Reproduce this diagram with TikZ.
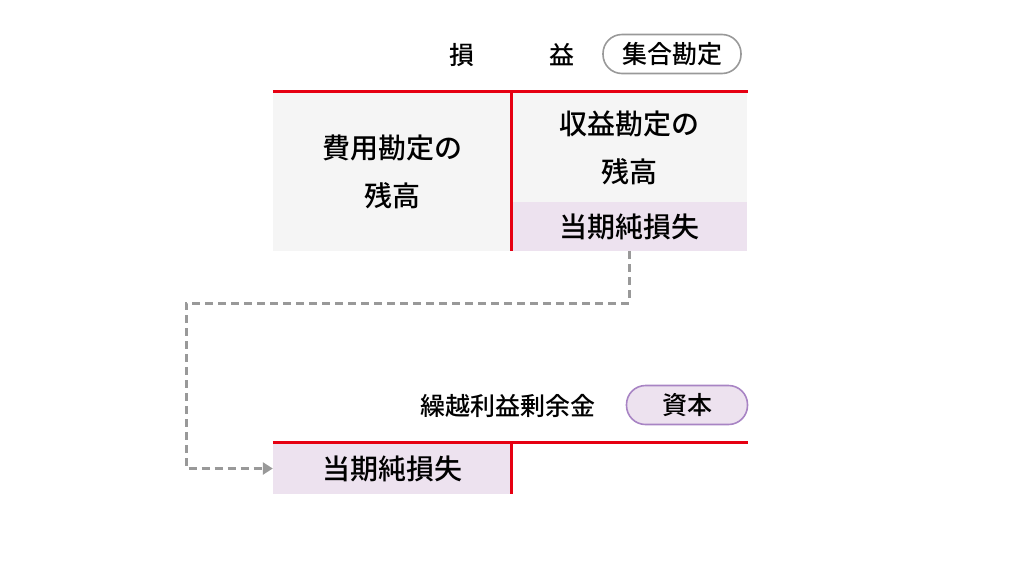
\documentclass[tikz,border=0pt]{standalone}
\usepackage{fontspec}
\setmainfont{Noto Sans CJK JP}[UprightFont={* Medium}]
\usepackage{tikz}
\usetikzlibrary{arrows.meta}

\definecolor{lineRed}{HTML}{E60012}
\definecolor{cellGrey}{HTML}{F5F5F5}
\definecolor{cellPurple}{HTML}{EDE2EF}
\definecolor{pillPurple}{HTML}{A884C4}
\definecolor{flowGrey}{HTML}{999999}

\begin{document}
\begin{tikzpicture}[x=1pt,y=-1pt,>={Triangle[length=10pt,width=12pt]},
      cell/.style={rectangle,inner sep=0pt,align=center,font=\fontsize{28}{48}\selectfont},
      title/.style={font=\fontsize{25}{30}\selectfont},
      pill/.style={rectangle,rounded corners=19pt,line width=1.6pt,
        minimum height=39pt,font=\fontsize{25}{30}\selectfont},
      tline/.style={lineRed,line width=3pt},
      flow/.style={flowGrey,line width=3pt,dash pattern=on 8pt off 5pt}]
    \useasboundingbox (0,0) rectangle (1024,576);

    % 損益 (top account)
    \node[cell,fill=cellGrey,minimum width=238pt,minimum height=158pt] (debit) at (392,172) {費用勘定の\\残高};
    \node[cell,fill=cellGrey,minimum width=236pt,minimum height=109pt] (credit) at (629,147.5) {収益勘定の\\残高};
    \node[cell,fill=cellPurple,minimum width=236pt,minimum height=49pt] (lossTop) at (629,226.5) {当期純損失};
    \node[title] (son) at (462,55) {損};
    \node[title] (eki) at (562,55) {益};
    \node[pill,draw=flowGrey,fill=white,minimum width=138pt] (shugo) at (672,54) {集合勘定};
    \coordinate (topEnd) at (748,91);
    \draw[tline] (debit.north west |- topEnd) -- (topEnd);
    \draw[tline] (debit.north east |- topEnd) -- (debit.south east);

    % 繰越利益剰余金 (bottom account)
    \node[cell,fill=cellPurple,minimum width=238pt,minimum height=51pt] (lossBot) at (392,468.5) {当期純損失};
    \node[title,anchor=east] (kurikoshi) at (599,406) {繰越利益剰余金};
    \node[pill,draw=pillPurple,fill=cellPurple,minimum width=121pt] (shihon) at (687,405) {資本};
    \coordinate (rightEnd) at (748,442);
    \draw[tline] (lossBot.north west |- rightEnd) -- (rightEnd);
    \draw[tline] (lossBot.north east |- rightEnd) -- (lossBot.south east);

    % transfer
    \coordinate (bend) at (186,303);
    \draw[flow,->] (lossTop.south) |- (bend) |- (lossBot.west);
\end{tikzpicture}
\end{document}
